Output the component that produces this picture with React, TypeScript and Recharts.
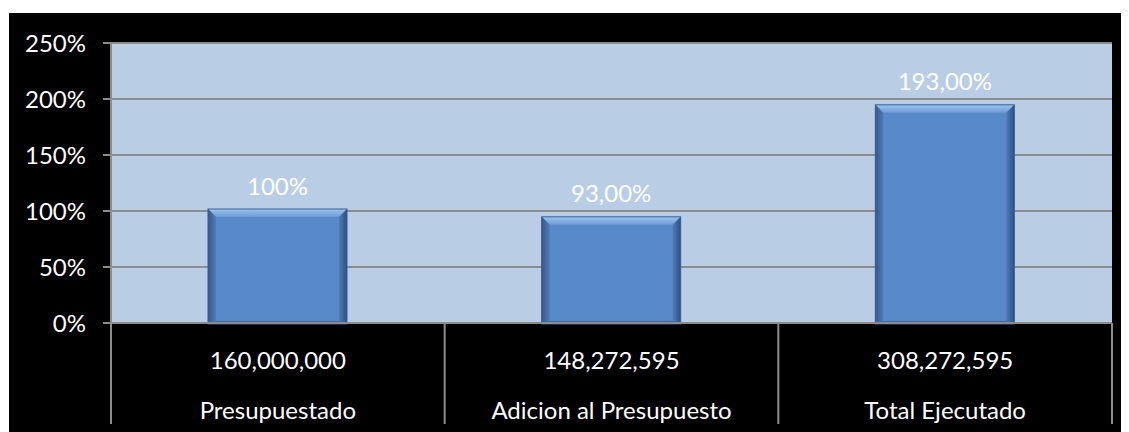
import React from 'react';
import { BarChart, Bar, XAxis, YAxis, CartesianGrid, LabelList } from 'recharts';

const categories = ['Presupuestado', 'Adicion al Presupuesto', 'Total Ejecutado'];
const amounts = ['160,000,000', '148,272,595', '308,272,595'];
const percentValues = [1.0, 0.93, 1.93];
const percentLabels = ['100%', '93,00%', '193,00%'];
const yTicks = [0, 0.5, 1, 1.5, 2, 2.5];

const data = categories.map((c, i) => ({ name: c, value: percentValues[i], amount: amounts[i], label: percentLabels[i] }));

const W = 1120;
const H = 419;
const M = { top: 30, right: 17, left: 0, bottom: 0 };
const YW = 102;
const XH = 109;
const FONT = 'Lato, "Open Sans", sans-serif';
const FS = 24;
const BAND = (W - M.left - M.right - YW) / categories.length;

const XTick = (props: any) => {
  const { x, y, index, payload } = props;
  const half = BAND / 2;
  const d = data[index];
  return (
    <g>
      <line x1={x - half} y1={y} x2={x - half} y2={y + 101} stroke="#8c8c8c" strokeWidth={2} />
      {index === categories.length - 1 && (
        <line x1={x + half} y1={y} x2={x + half} y2={y + 101} stroke="#8c8c8c" strokeWidth={2} />
      )}
      <text x={x} y={y + 36} textAnchor="middle" dominantBaseline="central" fill="#ffffff" fontFamily={FONT} fontSize={FS}>
        {d ? d.amount : ''}
      </text>
      <text x={x} y={y + 86} textAnchor="middle" dominantBaseline="central" fill="#ffffff" fontFamily={FONT} fontSize={FS}>
        {payload.value}
      </text>
    </g>
  );
};

const BevelBar = (props: any) => {
  const { x, width } = props;
  const y = props.y - 2;
  const height = props.height + 3;
  if (props.height <= 0) return null;
  const b = 8;
  return (
    <g>
      <defs>
        <linearGradient id="bevTop" x1="0" y1="0" x2="0" y2="1">
          <stop offset="0%" stopColor="#9cc4f2" />
          <stop offset="100%" stopColor="#6d9ad4" />
        </linearGradient>
        <linearGradient id="bevLeft" x1="0" y1="0" x2="1" y2="0">
          <stop offset="0%" stopColor="#35598a" />
          <stop offset="100%" stopColor="#4e7cb8" />
        </linearGradient>
        <linearGradient id="bevRight" x1="0" y1="0" x2="1" y2="0">
          <stop offset="0%" stopColor="#4e7cb8" />
          <stop offset="100%" stopColor="#2f5080" />
        </linearGradient>
      </defs>
      <rect x={x} y={y} width={width} height={height} fill="#5889c9" />
      <polygon points={`${x},${y} ${x + width},${y} ${x + width - b},${y + b} ${x + b},${y + b}`} fill="url(#bevTop)" />
      <polygon points={`${x},${y} ${x + b},${y + b} ${x + b},${y + height - 3} ${x},${y + height}`} fill="url(#bevLeft)" />
      <polygon points={`${x + width},${y} ${x + width - b},${y + b} ${x + width - b},${y + height - 3} ${x + width},${y + height}`} fill="url(#bevRight)" />
      <polygon points={`${x},${y + height} ${x + b},${y + height - 3} ${x + width - b},${y + height - 3} ${x + width},${y + height}`} fill="#41689c" />
      <rect x={x} y={y} width={width} height={height} fill="none" stroke="#3a5f91" strokeWidth={1} />
    </g>
  );
};

const TopLabel = (props: any) => {
  const { x, y, width, index } = props;
  return (
    <text x={x + width / 2} y={y - 26} textAnchor="middle" dominantBaseline="central" fill="#ffffff" fontFamily={FONT} fontSize={FS}>
      {percentLabels[index]}
    </text>
  );
};

const fmtPct = (v: number) => `${Math.round(v * 100)}%`;

export default function App() {
  return (
    <div style={{ paddingTop: 5, paddingLeft: 1 }}>
      <div style={{ width: W, height: H, background: '#000000' }}>
        <BarChart width={W} height={H} data={data} margin={M} barSize={139}>
          <CartesianGrid vertical={false} fill="#b9cde5" stroke="#8c8c8c" strokeWidth={2} fillOpacity={1} />
          <XAxis
            dataKey="name"
            height={XH}
            axisLine={{ stroke: '#8c8c8c', strokeWidth: 2 }}
            tickLine={false}
            tickSize={0}
            tickMargin={0}
            tick={<XTick />}
            interval={0}
          />
          <YAxis
            width={YW}
            domain={[0, 2.5]}
            ticks={yTicks}
            tickFormatter={fmtPct}
            axisLine={{ stroke: '#8c8c8c', strokeWidth: 2 }}
            tickLine={{ stroke: '#8c8c8c', strokeWidth: 2 }}
            tickSize={8}
            tickMargin={17}
            tick={{ fill: '#ffffff', fontFamily: FONT, fontSize: FS }}
            interval={0}
          />
          <Bar dataKey="value" shape={<BevelBar />} isAnimationActive={false}>
            <LabelList dataKey="label" content={<TopLabel />} />
          </Bar>
        </BarChart>
      </div>
    </div>
  );
}
